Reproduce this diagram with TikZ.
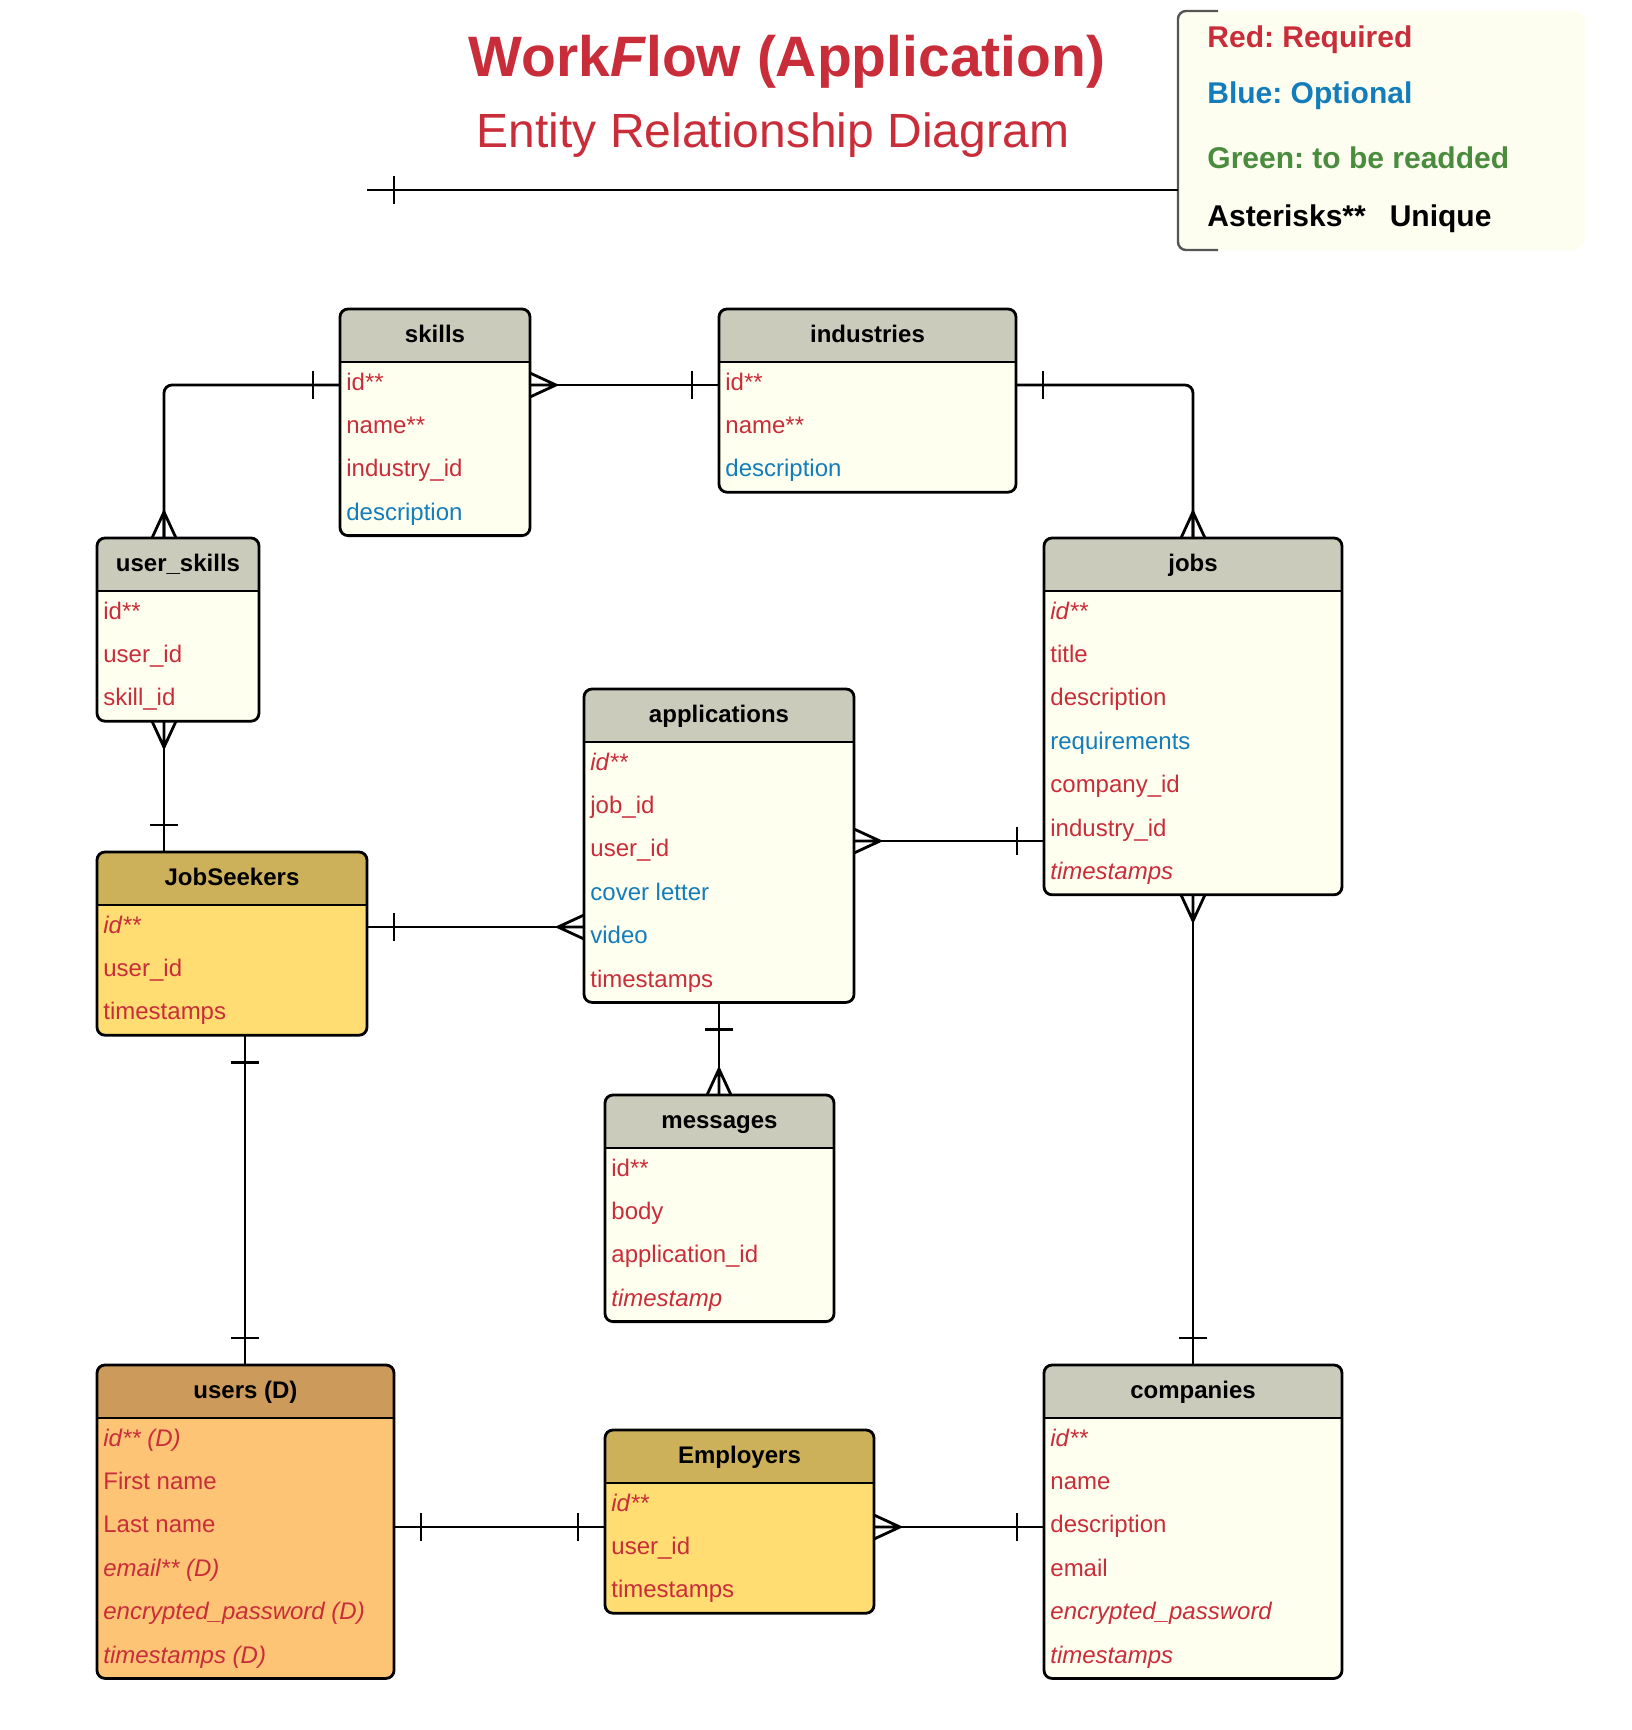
\documentclass[tikz,border=0pt]{standalone}
\usepackage{fontspec}
\setmainfont{Liberation Sans}
\frenchspacing
\usetikzlibrary{calc}
\definecolor{req}{HTML}{C92D39}
\definecolor{opt}{HTML}{137DBB}
\definecolor{grn}{HTML}{4A8C3D}
\definecolor{hdr}{HTML}{CBCBBC}
\definecolor{bdy}{HTML}{FFFFEF}
\definecolor{jshdr}{HTML}{CCB05A}
\definecolor{jsbdy}{HTML}{FFDD73}
\definecolor{uhdr}{HTML}{CC9A5A}
\definecolor{ubdy}{HTML}{FEC476}
\definecolor{lgd}{HTML}{FEFEF0}
\definecolor{brk}{HTML}{555555}
\tikzset{
  ent/.style={line width=1.4pt, draw=black},
  entbox/.style={draw=black, line width=1.4pt, rounded corners=4pt, anchor=north west, inner sep=0pt, outer sep=0pt},
  hdrtext/.style={font=\fontsize{12}{14}\selectfont\bfseries, anchor=base, inner sep=0pt},
  rowtext/.style={font=\fontsize{12}{14}\selectfont, anchor=base west, inner sep=0pt},
  rq/.style={text=req},
  op/.style={text=opt},
  it/.style={font=\fontsize{12}{14}\selectfont\itshape},
  conn/.style={line width=1.4pt, draw=black},
  lgtext/.style={font=\fontsize{15}{18}\selectfont\bfseries, anchor=base west, inner sep=0pt},
  crow/.pic={\draw[conn] (0,0) -- (26,0) (0,12) -- (26,0) -- (0,-12);},
  one/.pic={\draw[conn] (27,-14) -- (27,14);}
}
% name, x, y, w, n, header colour, body colour, title
\newcommand\entity[8]{%
  \begin{scope}
    \clip[rounded corners=4pt] (#2,#3) rectangle ({#2+#4},{#3+53+43.4*#5});
    \fill[#7] (#2,#3) rectangle ({#2+#4},{#3+53+43.4*#5});
    \fill[#6] (#2,#3) rectangle ({#2+#4},{#3+53});
  \end{scope}
  \draw[ent] (#2,{#3+53}) -- ({#2+#4},{#3+53});
  \node[entbox, minimum width={#4*0.5pt}, minimum height={(53+43.4*#5)*0.5pt}] (#1) at (#2,#3) {};
  \node[hdrtext] (#1-title) at ({#2+#4/2},{#3+33}) {#8};
}
\newcommand\erow[4]{%
  \node[rowtext,#3] (#1-r#2) at ([shift={(6,{81+43.4*(#2-1)})}]#1.north west) {#4};
}
\begin{document}
\begin{tikzpicture}[x=0.5pt,y=-0.5pt]
\fill[white] (0,0) rectangle (1632,1730);
\useasboundingbox (0,0) rectangle (1632,1730);

% title
\node[font=\fontsize{28.5}{34}\selectfont\bfseries, text=req, anchor=base, inner sep=0pt] (title) at (787,76) {Work\textit{F}low (Application)};
\node[font=\fontsize{24}{29}\selectfont, text=req, anchor=base, inner sep=0pt] (subtitle) at (773,147) {Entity Relationship Diagram};

% legend
\node[fill=lgd, rounded corners=6pt, minimum width=203.5pt, minimum height=119.5pt, anchor=north west, inner sep=0pt, outer sep=0pt] (legend) at (1178,11) {};
\draw[line width=1.2pt, draw=brk, rounded corners=4pt] ([xshift=20pt]legend.north west) -- (legend.north west) -- (legend.south west) -- ([xshift=20pt]legend.south west);
\node[lgtext, text=req] (lg1) at (1207,47) {Red: Required};
\node[lgtext, text=opt] (lg2) at (1207,103) {Blue: Optional};
\node[lgtext, text=grn] (lg3) at (1207,168) {Green: to be readded};
\node[lgtext, text=black] (lg4) at (1207,226) {Asterisks**\hspace{12pt}Unique};

\coordinate (tl) at (367,190);
\draw[conn] (tl) -- (legend.west |- tl);
\pic at (tl) {one};

% entities
\entity{skills}{340}{309}{190}{4}{hdr}{bdy}{skills}
\erow{skills}{1}{rq}{id**}
\erow{skills}{2}{rq}{name**}
\erow{skills}{3}{rq}{industry\_id}
\erow{skills}{4}{op}{description}

\entity{industries}{719}{309}{297}{3}{hdr}{bdy}{industries}
\erow{industries}{1}{rq}{id**}
\erow{industries}{2}{rq}{name**}
\erow{industries}{3}{op}{description}

\entity{user_skills}{97}{538}{162}{3}{hdr}{bdy}{user\_skills}
\erow{user_skills}{1}{rq}{id**}
\erow{user_skills}{2}{rq}{user\_id}
\erow{user_skills}{3}{rq}{skill\_id}

\entity{jobs}{1044}{538}{298}{7}{hdr}{bdy}{jobs}
\erow{jobs}{1}{rq,it}{id**}
\erow{jobs}{2}{rq}{title}
\erow{jobs}{3}{rq}{description}
\erow{jobs}{4}{op}{requirements}
\erow{jobs}{5}{rq}{company\_id}
\erow{jobs}{6}{rq}{industry\_id}
\erow{jobs}{7}{rq,it}{timestamps}

\entity{applications}{584}{689}{270}{6}{hdr}{bdy}{applications}
\erow{applications}{1}{rq,it}{id**}
\erow{applications}{2}{rq}{job\_id}
\erow{applications}{3}{rq}{user\_id}
\erow{applications}{4}{op}{cover letter}
\erow{applications}{5}{op}{video}
\erow{applications}{6}{rq}{timestamps}

\entity{JobSeekers}{97}{852}{270}{3}{jshdr}{jsbdy}{JobSeekers}
\erow{JobSeekers}{1}{rq,it}{id**}
\erow{JobSeekers}{2}{rq}{user\_id}
\erow{JobSeekers}{3}{rq}{timestamps}

\entity{messages}{605}{1095}{229}{4}{hdr}{bdy}{messages}
\erow{messages}{1}{rq}{id**}
\erow{messages}{2}{rq}{body}
\erow{messages}{3}{rq}{application\_id}
\erow{messages}{4}{rq,it}{timestamp}

\entity{users}{97}{1365}{297}{6}{uhdr}{ubdy}{users (D)}
\erow{users}{1}{rq,it}{id** (D)}
\erow{users}{2}{rq}{First name}
\erow{users}{3}{rq}{Last name}
\erow{users}{4}{rq,it}{email** (D)}
\erow{users}{5}{rq,it}{encrypted\_password (D)}
\erow{users}{6}{rq,it}{timestamps (D)}

\entity{Employers}{605}{1430}{269}{3}{jshdr}{jsbdy}{Employers}
\erow{Employers}{1}{rq,it}{id**}
\erow{Employers}{2}{rq}{user\_id}
\erow{Employers}{3}{rq}{timestamps}

\entity{companies}{1044}{1365}{298}{6}{hdr}{bdy}{companies}
\erow{companies}{1}{rq,it}{id**}
\erow{companies}{2}{rq}{name}
\erow{companies}{3}{rq}{description}
\erow{companies}{4}{rq}{email}
\erow{companies}{5}{rq,it}{encrypted\_password}
\erow{companies}{6}{rq,it}{timestamps}

% connectors
\draw[conn, rounded corners=4pt] (skills.west |- 0,385) -| (164,0 |- user_skills.north);
\pic[rotate=180] at (skills.west |- 0,385) {one};
\pic[rotate=90] at (164,0 |- user_skills.north) {crow};

\draw[conn] (skills.east |- 0,385) -- (industries.west |- 0,385);
\pic at (skills.east |- 0,385) {crow};
\pic[rotate=180] at (industries.west |- 0,385) {one};

\draw[conn, rounded corners=4pt] (industries.east |- 0,385) -| (jobs.north);
\pic at (industries.east |- 0,385) {one};
\pic[rotate=90] at (jobs.north) {crow};

\draw[conn] (164,0 |- user_skills.south) -- (164,0 |- JobSeekers.north);
\pic[rotate=-90] at (164,0 |- user_skills.south) {crow};
\pic[rotate=90] at (164,0 |- JobSeekers.north) {one};

\draw[conn] (JobSeekers.east |- 0,927) -- (applications.west |- 0,927);
\pic at (JobSeekers.east |- 0,927) {one};
\pic[rotate=180] at (applications.west |- 0,927) {crow};

\draw[conn] (applications.east |- 0,841) -- (jobs.west |- 0,841);
\pic at (applications.east |- 0,841) {crow};
\pic[rotate=180] at (jobs.west |- 0,841) {one};

\draw[conn] (applications.south) -- (applications.south |- messages.north);
\pic[rotate=-90] at (applications.south) {one};
\pic[rotate=90] at (applications.south |- messages.north) {crow};

\draw[conn] (245,0 |- JobSeekers.south) -- (245,0 |- users.north);
\pic[rotate=-90] at (245,0 |- JobSeekers.south) {one};
\pic[rotate=90] at (245,0 |- users.north) {one};

\draw[conn] (jobs.south) -- (jobs.south |- companies.north);
\pic[rotate=-90] at (jobs.south) {crow};
\pic[rotate=90] at (jobs.south |- companies.north) {one};

\draw[conn] (users.east |- 0,1527) -- (Employers.west |- 0,1527);
\pic at (users.east |- 0,1527) {one};
\pic[rotate=180] at (Employers.west |- 0,1527) {one};

\draw[conn] (Employers.east |- 0,1527) -- (companies.west |- 0,1527);
\pic at (Employers.east |- 0,1527) {crow};
\pic[rotate=180] at (companies.west |- 0,1527) {one};
\end{tikzpicture}
\end{document}
